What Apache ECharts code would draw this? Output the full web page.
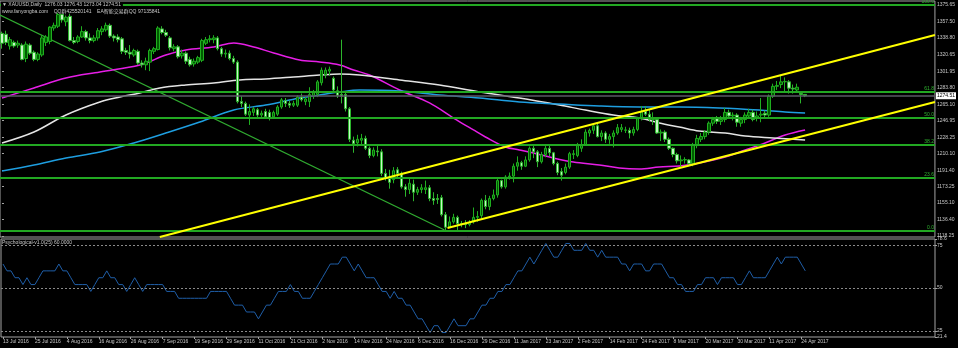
<!DOCTYPE html>
<html><head><meta charset="utf-8">
<script src="https://cdn.jsdelivr.net/npm/echarts@6/dist/echarts.min.js"></script>
<style>html,body{margin:0;padding:0;background:#000;overflow:hidden}#c{width:958px;height:348px}</style>
</head><body><div id="c"></div>
<script>
// ---------- data ----------
const dateLabels = ['13 Jul 2016','25 Jul 2016','4 Aug 2016','16 Aug 2016','26 Aug 2016','7 Sep 2016','19 Sep 2016','29 Sep 2016','11 Oct 2016','21 Oct 2016','2 Nov 2016','14 Nov 2016','24 Nov 2016','6 Dec 2016','16 Dec 2016','29 Dec 2016','11 Jan 2017','23 Jan 2017','2 Feb 2017','14 Feb 2017','24 Feb 2017','8 Mar 2017','20 Mar 2017','30 Mar 2017','11 Apr 2017','24 Apr 2017'];
const labelEvery = 8;
const slotCount = 234;
// [open, close, low, high]
const candles = [
[1344,1333,1327,1346],[1343,1334,1331,1347],[1330,1337,1326,1340],[1334,1330,1328,1336],[1331,1333,1328,1336],
[1331,1315,1314,1333],[1316,1332,1312,1335],[1331,1322,1320,1333],[1323,1315,1313,1325],[1315,1321,1313,1323],
[1320,1339,1318,1342],[1334,1340,1330,1342],[1335,1351,1332,1352],[1350,1353,1347,1356],[1352,1365,1350,1367],
[1365,1359,1356,1366],[1357,1362,1352,1364],[1363,1336,1335,1366],[1336,1334,1332,1340],[1335,1340,1333,1342],
[1340,1346,1339,1352],[1346,1339,1336,1348],[1339,1336,1333,1344],[1336,1339,1334,1342],[1339,1347,1336,1350],
[1346,1349,1342,1352],[1348,1353,1346,1356],[1353,1341,1339,1355],[1341,1339,1335,1343],[1340,1337,1334,1343],
[1338,1324,1321,1340],[1325,1323,1320,1328],[1323,1321,1316,1331],[1320,1325,1318,1327],[1324,1311,1309,1326],
[1311,1309,1306,1314],[1309,1313,1303,1317],[1312,1325,1302,1327],[1324,1327,1321,1329],[1326,1350,1325,1352],
[1349,1345,1343,1352],[1345,1342,1340,1348],[1339,1328,1325,1341],[1327,1329,1324,1332],[1329,1318,1316,1331],
[1319,1322,1316,1326],[1322,1313,1310,1324],[1315,1309,1307,1318],[1310,1313,1307,1316],[1312,1317,1310,1319],
[1314,1336,1312,1338],[1333,1337,1331,1340],[1337,1338,1334,1342],[1337,1339,1333,1342],[1339,1327,1325,1341],
[1327,1321,1318,1329],[1321,1322,1317,1326],[1322,1316,1314,1325],[1316,1312,1310,1319],[1312,1268,1266,1314],
[1268,1266,1262,1274],[1266,1254,1252,1268],[1253,1257,1242,1265],[1256,1260,1252,1262],[1259,1253,1250,1261],
[1253,1255,1250,1258],[1257,1251,1249,1260],[1256,1250,1247,1259],[1251,1256,1249,1258],[1254,1262,1252,1264],
[1262,1270,1260,1272],[1269,1266,1262,1272],[1266,1264,1261,1269],[1264,1266,1262,1269],[1264,1273,1262,1275],
[1273,1270,1268,1277],[1268,1271,1264,1273],[1268,1276,1262,1284],[1274,1278,1271,1281],[1276,1290,1273,1292],
[1289,1303,1286,1306],[1298,1303,1294,1306],[1302,1304,1297,1307],[1294,1281,1279,1296],[1280,1275,1272,1285],
[1276,1274,1266,1337],[1276,1260,1257,1279],[1260,1226,1223,1262],[1225,1221,1211,1229],[1222,1226,1218,1231],
[1225,1227,1220,1232],[1227,1216,1214,1230],[1216,1208,1205,1218],[1208,1214,1206,1217],[1213,1212,1207,1220],
[1212,1188,1185,1215],[1188,1183,1180,1193],[1184,1178,1171,1192],[1181,1191,1177,1195],[1192,1188,1184,1195],
[1188,1173,1171,1190],[1173,1170,1162,1176],[1170,1177,1165,1182],[1176,1167,1157,1181],[1167,1170,1164,1173],
[1170,1172,1166,1176],[1170,1172,1165,1180],[1172,1160,1157,1175],[1160,1158,1153,1167],[1160,1159,1154,1165],
[1161,1142,1140,1164],[1142,1128,1123,1145],[1128,1134,1127,1140],[1134,1139,1132,1143],[1139,1132,1125,1141],
[1132,1131.5,1128,1135],[1132,1131,1127,1136],[1131,1133,1129,1136],[1134,1139,1132,1150],[1139,1140,1134,1146],
[1141,1158,1138,1160],[1158,1151,1148,1164],[1151,1160,1147,1163],[1160,1164,1158,1170],[1164,1180,1161,1182],
[1180,1173,1171,1181],[1173,1184,1171,1186],[1184,1185,1181,1189],[1185,1196,1178,1199],[1196,1200,1191,1207],
[1200,1196,1192,1202],[1196,1203,1195,1207],[1203,1216,1201,1218],[1216,1212,1205,1219],[1212,1201,1195,1214],
[1201,1209,1199,1212],[1209,1216,1206,1219],[1216,1211,1207,1219],[1211,1199,1197,1212],[1199,1189,1186,1201],
[1190,1186,1180,1194],[1189,1195,1187,1199],[1195,1210,1193,1212],[1209,1210,1204,1214],[1208,1219,1206,1222],
[1216,1220,1212,1226],[1220,1234,1219,1237],[1233,1236,1229,1238],[1236,1241,1232,1244],[1241,1229,1228,1244],
[1229,1233,1224,1236],[1233,1226,1222,1235],[1226,1229,1221,1232],[1229,1233,1217,1236],[1233,1239,1231,1243],
[1237,1239,1234,1243],[1236,1236.5,1233,1240],[1236,1233,1227,1239],[1233,1237,1230,1240],[1237,1249,1235,1251],
[1250,1257,1247,1263],[1257,1254,1252,1263],[1254,1248,1246,1259],[1248,1248.5,1242,1256],[1248,1233,1232,1250],
[1233,1234,1224,1237],[1234,1226,1223,1236],[1226,1216,1214,1228],[1216,1209,1206,1217],[1209,1202,1199,1211],
[1202,1203,1195,1208],[1203,1203.5,1199,1206],[1203,1199,1196,1204],[1199,1220,1196,1222],[1219,1227,1216,1231],
[1226,1229,1223,1233],[1229,1234,1226,1236],[1234,1244,1231,1246],[1244,1248,1241,1251],[1249,1246,1243,1252],
[1246,1248,1242,1252],[1248,1256,1245,1261],[1256,1252,1249,1259],[1252,1253,1247,1256],[1253,1245,1240,1255],
[1244,1248,1240,1251],[1248,1253,1244,1256],[1252,1256,1250,1260],[1256,1248,1246,1259],[1250,1252,1246,1257],
[1253,1254,1245,1272],[1255,1253,1249,1258],[1253,1274,1251,1276],[1274,1285,1272,1288],[1285,1286,1281,1291],
[1287,1290,1283,1297],[1290,1290.5,1279,1295],[1290,1283,1277,1292],[1283,1282,1277,1287],[1281,1284,1278,1288],
[1277,1276,1266,1279],[1276.03,1274.51,1273.04,1276.43]
];
const psych = [
64,60,60,56,56,52,56,52,52,56, 60,60,60,60,64,60,60,56,52,52,
52,52,48,52,56,56,60,56,56,52, 52,48,52,56,52,48,52,52,52,52,
52,48,48,48,44,44,44,44,44,44, 44,44,48,48,48,48,48,44,40,40,
40,36,36,36,32,36,40,40,44,48, 48,48,52,48,48,44,44,44,48,52,
56,60,64,64,64,68,68,64,60,64, 60,56,56,56,52,48,48,44,48,44,
44,40,40,36,32,32,28,24,28,28, 24,24,28,32,28,28,28,32,32,36,
40,40,44,44,48,48,52,52,56,60, 60,64,68,64,68,72,76,72,68,68,
72,76,76,72,72,72,76,72,72,68, 72,68,68,68,68,64,64,60,64,64,
64,60,60,64,64,64,60,56,56,52, 52,48,48,48,52,52,56,56,56,52,
56,56,56,56,52,52,56,60,56,56, 56,56,60,64,68,64,68,68,68,68,
64,60
];
// moving averages: [bar index, price]
const maMagenta = [[0,1272.0],[8,1283.2],[16,1294.3],[24.5,1301.0],[34.5,1308.8],[41,1319.9],[46,1325.5],[53,1328.9],[58,1333.3],[63,1328.9],[68,1322.2],[74.5,1314.4],[79.5,1312.1],[84.5,1308.8],[88,1303.2],[92,1297.6],[99.5,1280.9],[107,1266.5],[113,1249.7],[118,1236.4],[121,1228.6],[126,1217.4],[129.5,1214.1],[133,1210.7],[138,1205.2],[143,1200.7],[149.5,1197.4],[154.5,1194.0],[159.5,1192.9],[164.5,1195.2],[169.5,1196.3],[174.5,1199.6],[181,1206.3],[186,1214.1],[191,1221.9],[196,1230.8],[201,1236.4]];
const maWhite = [[0,1221.9],[8,1234.1],[16,1253.1],[24.5,1267.6],[29.5,1273.1],[34.5,1277.6],[39.5,1283.2],[46,1286.5],[53,1288.7],[59.5,1292.1],[66,1293.2],[73,1295.4],[79.5,1297.6],[84.5,1298.8],[89.5,1297.6],[99.5,1292.1],[109.5,1286.5],[119.5,1278.7],[129.5,1272.0],[139.5,1264.2],[146,1258.6],[153,1253.1],[159.5,1249.7],[164.5,1244.2],[169.5,1239.7],[174.5,1235.2],[181,1233.0],[186,1229.7],[193,1227.5],[201,1225.2]];
const maBlue = [[0,1190.7],[8,1197.4],[16,1205.2],[24.5,1211.8],[33,1221.9],[41,1233.0],[49.5,1245.3],[58,1258.6],[66,1264.2],[74.5,1272.0],[79.5,1275.4],[84.5,1278.7],[89.5,1280.9],[99.5,1279.8],[109.5,1275.4],[119.5,1272.0],[129.5,1267.6],[139.5,1265.3],[149.5,1263.1],[159.5,1262.0],[169.5,1262.0],[179.5,1260.9],[189.5,1258.6],[196,1256.4],[201,1255.3]];
// drawn trend lines: [bar index, price]
const trendGreen = [[-0.5,1364.5],[110.75,1124.9]];
const trendUpper = [[39.5,1117.1],[233.5,1342.2]];
const trendLower = [[111.5,1127.2],[233.5,1267.6]];
const fibHigh = 1375.65, fibLow = 1123.8;
const fibLevels = [100, 61.8, 50, 38.2, 23.6, 0];
const lastPrice = 1274.51;
const priceTicks = [1375.65,1357.50,1338.80,1320.65,1301.95,1283.80,1265.10,1246.95,1228.25,1210.10,1191.40,1173.25,1155.10,1136.40,1118.25];
const priceMin = 1117.13, priceMax = 1380.11;
const psychTicks = [78.6, 75, 50, 25, 21.4];
const psychLevels = [75, 50, 25];
const psychMin = 21.4, psychMax = 78.6;
const headerLine1 = '\u25BC XAUUSD,Daily  1276.03 1276.43 1273.04 1274.51';
const headerLine2 = 'www.fanyongba.com    QQ\u7FA4425520141    EA\u667A\u80FD\u4EA4\u6613\u7FA4QQ 97135841';
const indicatorTitle = 'Psychological-v1.0(25) 60.0000';

// ---------- chart ----------
const FONT = "'Liberation Sans','Noto Sans CJK SC',sans-serif";
const TXT = '#c8c8c8';
const FRAME = '#a4a4a4';
const cats = Array.from({length: slotCount}, (_, i) => String(i));
const showLabel = (idx) => idx % labelEvery === 0 && idx / labelEvery < dateLabels.length;

const chart = echarts.init(document.getElementById('c'), null, {renderer: 'canvas'});
const fibLine = (lvl) => ({
  yAxis: fibLow + (fibHigh - fibLow) * lvl / 100,
  label: {formatter: lvl.toFixed(1)}
});
chart.setOption({
  animation: false,
  backgroundColor: '#000',
  title: [
    {text: headerLine1, left: 1, top: 2, padding: [0, 2, 0, 1], backgroundColor: '#000',
     textStyle: {color: TXT, fontSize: 5, fontWeight: 'normal', fontFamily: FONT}},
    {text: headerLine2, left: 2, top: 9.5, padding: 0,
     textStyle: {color: TXT, fontSize: 5, fontWeight: 'normal', fontFamily: FONT}},
    {text: indicatorTitle, left: 2, top: 240.5, padding: 0,
     textStyle: {color: TXT, fontSize: 5, fontWeight: 'normal', fontFamily: FONT}}
  ],
  grid: [
    {left: 0, top: 1, width: 935, height: 236, show: true, borderColor: FRAME, borderWidth: 1, backgroundColor: '#000'},
    {left: 0, top: 239, width: 935, height: 98, show: true, borderColor: FRAME, borderWidth: 1, backgroundColor: '#000'}
  ],
  xAxis: [
    {type: 'category', gridIndex: 0, data: cats, boundaryGap: true,
     axisLine: {show: false}, axisTick: {show: false}, axisLabel: {show: false}, splitLine: {show: false}},
    {type: 'value', gridIndex: 0, min: -0.5, max: slotCount - 0.5, show: false},
    {type: 'category', gridIndex: 1, data: cats, boundaryGap: true,
     axisLine: {show: false},
     axisTick: {show: true, alignWithLabel: true, interval: (i) => showLabel(i), length: 2, lineStyle: {color: FRAME}},
     axisLabel: {interval: (i) => showLabel(i), formatter: (v, i) => dateLabels[i / labelEvery] || '',
       color: TXT, fontSize: 5, fontFamily: FONT, align: 'left', margin: 2},
     splitLine: {show: false}}
  ],
  yAxis: [
    {type: 'value', gridIndex: 0, position: 'right', min: priceMin, max: priceMax, scale: true,
     splitLine: {show: false}, axisLine: {show: false},
     axisTick: {show: true, customValues: priceTicks, length: 2, lineStyle: {color: FRAME}},
     axisLabel: {customValues: priceTicks, formatter: (v) => v.toFixed(2), color: TXT, fontSize: 5, fontFamily: FONT, margin: 2}},
    {type: 'value', gridIndex: 1, position: 'right', min: psychMin, max: psychMax,
     splitLine: {show: false}, axisLine: {show: false},
     axisTick: {show: true, customValues: psychTicks, length: 2, lineStyle: {color: FRAME}},
     axisLabel: {customValues: psychTicks, formatter: (v) => String(v), color: TXT, fontSize: 5, fontFamily: FONT, margin: 2}}
  ],
  series: [
    {type: 'line', xAxisIndex: 0, yAxisIndex: 0, data: [], silent: true, z: 1,
     markLine: {silent: true, symbol: ['none', 'none'], animation: false,
       lineStyle: {color: '#22a822', width: 1.8, type: 'solid'},
       label: {position: 'insideEndTop', color: '#2fb52f', fontSize: 5, fontFamily: FONT, distance: [1, 0.5]},
       data: fibLevels.map(fibLine)}},
    {type: 'line', xAxisIndex: 0, yAxisIndex: 0, data: [], silent: true, z: 1,
     markLine: {silent: true, symbol: ['none', 'none'], animation: false,
       lineStyle: {color: '#5a5a64', width: 1.6, type: 'solid'},
       label: {position: 'end', distance: 1, formatter: lastPrice.toFixed(2), color: '#000', backgroundColor: '#fff',
         fontSize: 5, fontFamily: FONT, padding: [1, 1]},
       data: [{yAxis: lastPrice}]}},
    {type: 'line', name: 'trend', xAxisIndex: 1, yAxisIndex: 0, data: trendGreen, showSymbol: false, symbol: 'none',
     lineStyle: {color: '#30aa30', width: 1.3}, z: 2, clip: true},
    {type: 'line', name: 'MA magenta', xAxisIndex: 1, yAxisIndex: 0, data: maMagenta, symbol: 'none', smooth: 0.35,
     lineStyle: {color: '#e61ee6', width: 1.5}, z: 3},
    {type: 'line', name: 'MA white', xAxisIndex: 1, yAxisIndex: 0, data: maWhite, symbol: 'none', smooth: 0.35,
     lineStyle: {color: '#e4e4e4', width: 1.5}, z: 3},
    {type: 'line', name: 'MA blue', xAxisIndex: 1, yAxisIndex: 0, data: maBlue, symbol: 'none', smooth: 0.35,
     lineStyle: {color: '#1e9ee0', width: 1.5}, z: 3},
    {type: 'candlestick', xAxisIndex: 0, yAxisIndex: 0, data: candles, barWidth: 3, z: 4,
     itemStyle: {color: '#005c00', borderColor: '#1fae1f', color0: '#c6f7c6', borderColor0: '#2cb52c', borderWidth: 1}},
    {type: 'line', name: 'channel upper', xAxisIndex: 1, yAxisIndex: 0, data: trendUpper, symbol: 'none',
     lineStyle: {color: '#ffff00', width: 2}, z: 5, clip: true},
    {type: 'line', name: 'channel lower', xAxisIndex: 1, yAxisIndex: 0, data: trendLower, symbol: 'none',
     lineStyle: {color: '#ffff00', width: 2}, z: 5, clip: true},
    {type: 'line', name: 'Psychological', xAxisIndex: 2, yAxisIndex: 1, data: psych, symbol: 'none',
     lineStyle: {color: '#1f5ea8', width: 1},
     markLine: {silent: true, symbol: ['none', 'none'], animation: false, label: {show: false},
       lineStyle: {color: '#8a8a8a', width: 1, type: [2, 2]},
       data: psychLevels.map(v => ({yAxis: v}))}}
  ]
});
</script>
</body></html>
